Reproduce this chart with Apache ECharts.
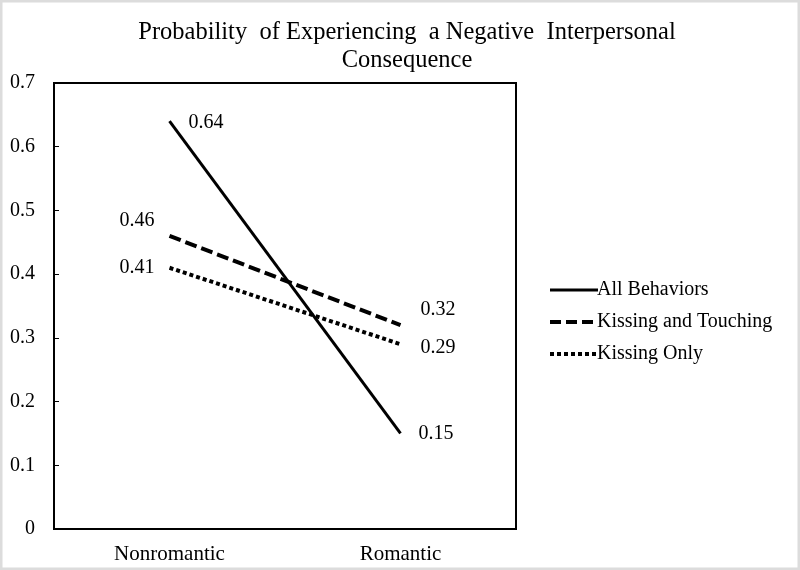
<!DOCTYPE html>
<html>
<head>
<meta charset="utf-8">
<script src="https://cdn.jsdelivr.net/npm/echarts@6/dist/echarts.min.js"></script>
<style>
html,body{margin:0;padding:0;background:#fff;}
#c{width:800px;height:570px;}
</style>
</head>
<body>
<div id="c"></div>
<script>
var categories = ['Nonromantic', 'Romantic'];
var allBehaviors = [0.64, 0.15];
var kissingTouching = [0.46, 0.32];
var kissingOnly = [0.41, 0.29];
var seriesNames = ['All Behaviors', 'Kissing and Touching', 'Kissing Only'];
var yTicks = [0, 0.1, 0.2, 0.3, 0.4, 0.5, 0.6, 0.7];

var FONT = 'Liberation Serif';
var chart = echarts.init(document.getElementById('c'));

function lbl(pos, dist, off) {
  return { show: true, position: pos, distance: dist, offset: off, fontFamily: FONT, fontSize: 20, color: '#000',
    formatter: function (p) { return p.value.toFixed(2); } };
}

function mkSeries(name, data, width, type, labels) {
  return {
    name: name, type: 'line', data: data.map(function (v, i) {
      return { value: v, label: labels[i] };
    }),
    symbol: 'circle', symbolSize: 2, showSymbol: true,
    itemStyle: { color: 'rgba(0,0,0,0)', borderWidth: 0 },
    lineStyle: { color: '#000', width: width, type: type, cap: 'butt' },
    emphasis: { disabled: true },
    animation: false, z: 3
  };
}

var legendStyles = [
  { width: 3, type: 'solid' },
  { width: 4, type: [11, 5] },
  { width: 4, type: [4, 3] }
];

chart.setOption({
  backgroundColor: '#fff',
  animation: false,
  title: {
    text: 'Probability  of Experiencing  a Negative  Interpersonal\nConsequence',
    left: 402, top: 14, textAlign: 'center',
    textStyle: { fontFamily: FONT, fontSize: 24.5, fontWeight: 'normal', color: '#000', lineHeight: 28 }
  },
  legend: {
    orient: 'vertical', left: 543, top: 275,
    itemWidth: 48, itemHeight: 14, itemGap: 12,
    textStyle: { fontFamily: FONT, fontSize: 20, color: '#000', padding: [0, 0, 0, -6] },
    data: seriesNames.map(function (n, i) {
      return { name: n, itemStyle: { color: 'rgba(0,0,0,0)', borderWidth: 0 }, lineStyle: { color: '#000', width: legendStyles[i].width, type: legendStyles[i].type, cap: 'butt' } };
    })
  },
  grid: { left: 54, right: 284, top: 83, bottom: 41, show: true, borderColor: '#000', borderWidth: 2 },
  xAxis: {
    type: 'category', data: categories, boundaryGap: true,
    axisLine: { lineStyle: { color: '#000', width: 2 } },
    axisTick: { inside: true, length: 5, lineStyle: { color: '#000', width: 1 } },
    axisLabel: { fontFamily: FONT, fontSize: 21, color: '#000', margin: 15 }
  },
  yAxis: {
    type: 'value', min: 0, max: 0.7, interval: 0.1,
    axisLine: { show: true, lineStyle: { color: '#000', width: 2 } },
    axisTick: { show: true, inside: true, length: 5, lineStyle: { color: '#000', width: 1 } },
    splitLine: { show: false },
    axisLabel: { fontFamily: FONT, fontSize: 20, color: '#000', margin: 19,
      formatter: function (v) {
        var t = yTicks.reduce(function (a, b) { return Math.abs(b - v) < Math.abs(a - v) ? b : a; });
        return t === 0 ? '0' : t.toFixed(1);
      } }
  },
  graphic: [{ type: 'rect', shape: { x: 0, y: 0, width: 800, height: 570 }, style: { fill: 'none', stroke: '#dcdcdc', lineWidth: 5 }, silent: true, z: 100 }],
  series: [
    mkSeries(seriesNames[0], allBehaviors, 3, 'solid', [lbl('right', 18, [0, 2]), lbl('right', 17, [0, 0])]),
    mkSeries(seriesNames[1], kissingTouching, 4, [12, 5], [lbl('left', 14, [0, -15]), lbl('right', 19, [0, -15])]),
    mkSeries(seriesNames[2], kissingOnly, 4, [4, 3], [lbl('left', 14, [0, 0]), lbl('right', 19, [0, 4])])
  ]
});
</script>
</body>
</html>
